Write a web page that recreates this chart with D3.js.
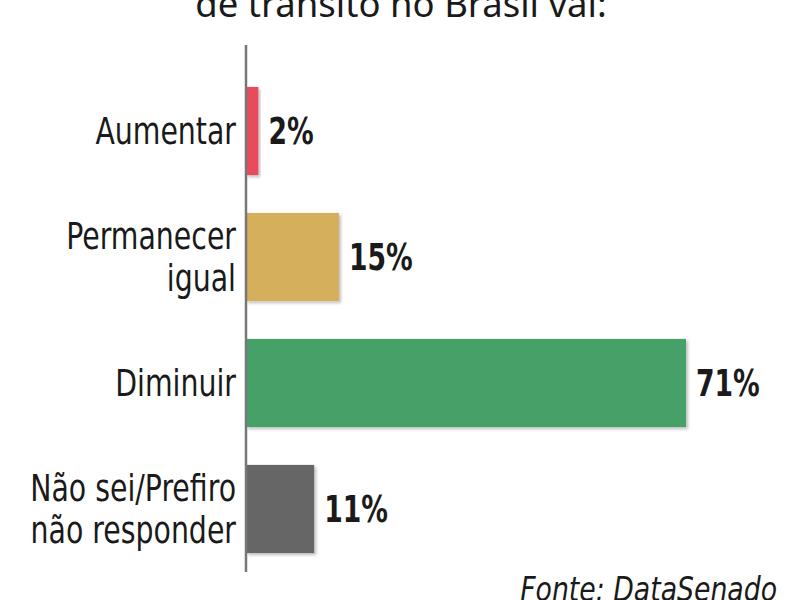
<!DOCTYPE html>
<html><head><meta charset="utf-8">
<script src="https://cdn.jsdelivr.net/npm/d3@7"></script>
<style>body{margin:0;background:#fff}svg{display:block}</style>
</head><body>
<svg id="c" width="800" height="600"></svg>
<script>
const categories = [["Aumentar"], ["Permanecer", "igual"], ["Diminuir"], ["Não sei/Prefiro", "não responder"]];
const values = [2, 15, 71, 11];
const valueLabels = ["2%", "15%", "71%", "11%"];
const colors = ["#e84b5b", "#d5af5c", "#45a168", "#666666"];
const titleText = "de trânsito no Brasil vai:";
const sourceText = "Fonte: DataSenado";

const svg = d3.select("#c");
const cond = "'DejaVu Sans Condensed','Liberation Sans Narrow',sans-serif";
const defs = svg.append("defs");
const f = defs.append("filter").attr("id","sh").attr("x","-10%").attr("y","-10%").attr("width","130%").attr("height","130%");
f.append("feDropShadow").attr("dx",2).attr("dy",2).attr("stdDeviation",1.5).attr("flood-color","#000").attr("flood-opacity",0.25);

const x = d3.scaleLinear().domain([0, 71]).range([246, 686]);
const y = d3.scaleBand().domain(d3.range(categories.length)).range([68, 572]).paddingInner(0.3).paddingOuter(0.15);

svg.selectAll("rect.bar").data(values).join("rect")
  .attr("class","bar")
  .attr("x", x(0)).attr("y", (d,i)=>y(i))
  .attr("width", d=>x(d)-x(0)).attr("height", y.bandwidth())
  .attr("fill", (d,i)=>colors[i]).attr("filter","url(#sh)");

svg.append("line").attr("x1",246).attr("x2",246).attr("y1",45).attr("y2",572)
  .attr("stroke","#777").attr("stroke-width",2.5);

const lh = 42;
categories.forEach((lines,i)=>{
  const cy = y(i)+y.bandwidth()/2;
  const t = svg.append("text").attr("transform",`translate(236,0) scale(0.83,1)`).attr("text-anchor","end")
    .style("font-family",cond).style("font-size","38px").attr("fill","#1a1a1a");
  lines.forEach((l,j)=>{
    t.append("tspan").attr("x",0).attr("y", cy + (j-(lines.length-1)/2)*lh + 13).text(l);
  });
});

svg.selectAll("text.val").data(values).join("text").attr("class","val")
  .attr("transform",(d,i)=>`translate(${x(d)+10},${y(i)+y.bandwidth()/2+13}) scale(0.8,1)`)
  .style("font-family",cond).style("font-size","37px").style("font-weight","bold")
  .attr("fill","#1a1a1a").text((d,i)=>valueLabels[i]);

svg.append("text").attr("x",401).attr("y",17).attr("text-anchor","middle")
  .style("font-family","'Noto Sans',sans-serif").style("font-size","36.5px").attr("fill","#1a1a1a").text(titleText);

svg.append("text").attr("transform","translate(777,601) scale(0.9,1)").attr("text-anchor","end")
  .style("font-family",cond).style("font-size","33px").style("font-style","italic")
  .attr("fill","#1a1a1a").text(sourceText);
</script>
</body></html>
